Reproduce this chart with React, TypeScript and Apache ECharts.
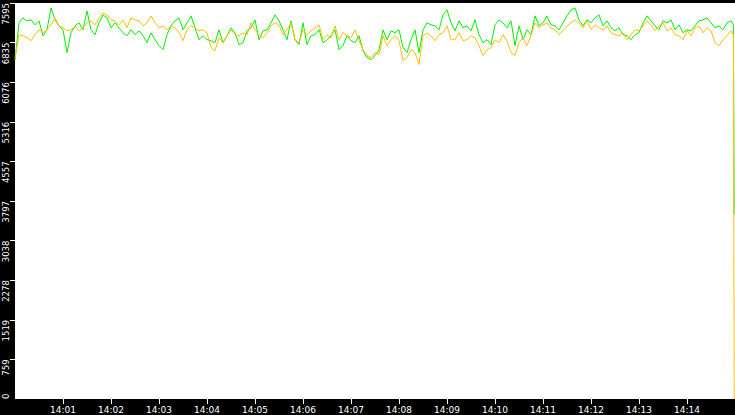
import { useEffect, useRef } from "react";
import * as echarts from "echarts";

// samples every 5 s from 14:00:00
const SAMPLE_STEP = 5;
const Y_MAX = 7595;
const Y_STEP = 759.5;

const greenValues = [
  6491, 7214, 7310, 7252, 7271, 7176, 7252, 6967, 7081, 7500, 7271, 7157, 7081, 6643, 7024, 7157, 7214, 7081, 7443, 7081,
  6986, 7214, 7367, 7310, 7119, 7214, 7119, 7024, 6967, 7081, 6986, 7062, 6967, 6834, 7024, 6891, 6777, 6700, 6986, 7157,
  7252, 7310, 7081, 7214, 7348,
  7119, 6891, 6967, 6891, 6872, 6834, 7081, 6834, 6967, 7119, 7024, 6796, 6834, 7062, 7119, 7271, 6891, 7062, 7081, 7214,
  7367, 7252, 7081, 6891, 7252, 6891, 6796, 7214, 6796, 6967, 6986, 7081, 6834, 6891, 6967, 7081, 6700, 6777, 6967, 6872,
  6834, 6967, 6681, 6548, 6510,
  6586, 6700, 7081, 6891, 7062, 7024, 7081, 6738, 6643, 6891, 7081, 6643, 7081, 7214, 7176, 7157, 7081, 7367, 7462, 7214,
  7062, 7252, 7119, 7157, 7062, 7271, 6986, 6834, 6891, 6796, 7176, 7271, 7214, 7119, 7252, 6777, 7157, 6891, 7081, 6986,
  7348, 7157, 7214, 7348, 7176,
  7157, 7081, 7214, 7348, 7462, 7500, 7271, 7157, 7271, 7214, 7310, 7367, 7157, 7252, 7119, 7062, 7119, 6986, 6967, 6891,
  6986, 7024, 7214, 7348, 7252, 7157, 7081, 7252, 7214, 7271, 7081, 7176, 7024, 7081, 7062, 7157, 7252, 7271, 7310, 7214,
  7119, 7157, 7081, 7214, 7252,
];

const orangeValues = [
  6548, 6986, 6967, 6929, 6872, 6986, 7081, 7024, 7081, 7176, 7310, 7157, 7119, 7062, 7081, 7157, 7062, 7119, 7214, 7252,
  7176, 7310, 7405, 7367, 7271, 7252, 7176, 7271, 7119, 7310, 7271, 7252, 7157, 7214, 7348, 7214, 7119, 7157, 7081, 7157,
  7119, 7024, 6872, 7081, 7157,
  7119, 7062, 7081, 7024, 6738, 6681, 6929, 6834, 6967, 7081, 6986, 6967, 7024, 6986, 7214, 7081, 6986, 6929, 7024, 7157,
  7214, 7176, 6986, 7081, 7214, 6891, 6834, 7081, 6986, 7062, 7119, 7176, 6891, 6986, 6929, 7157, 6891, 7024, 6967, 6929,
  7081, 6872, 6700, 6586, 6548,
  6643, 6605, 6967, 6777, 6891, 6967, 6872, 6491, 6548, 6700, 6643, 6415, 6967, 7024, 6967, 6872, 6986, 7024, 7157, 6891,
  6891, 7024, 6872, 6891, 6967, 6929, 6777, 6586, 6700, 6738, 6891, 6834, 6986, 6872, 6643, 6586, 6834, 6929, 6777, 6967,
  7214, 7119, 7176, 7214, 7119,
  7081, 6986, 7062, 7157, 7214, 7271, 7214, 7119, 7252, 7081, 7176, 7119, 7081, 7157, 7024, 6986, 6967, 7024, 6891, 6986,
  7081, 7062, 7157, 7252, 7176, 7062, 7157, 7214, 7062, 7119, 6986, 6967, 6891, 7062, 6967, 7119, 7157, 7024, 7119, 7062,
  6834, 6777, 6891, 6967, 7062,
];

// final readings: 14:14:58 and 14:14:59 (the drop)
const tailSeconds = [898, 899];
const greenTail = [7176, 3541];
const orangeTail = [6986, 0];

function toPoints(values: number[], tail: number[]) {
  const pts: [number, number][] = values.map((v, i) => [i * SAMPLE_STEP, v]);
  tail.forEach((v, i) => pts.push([tailSeconds[i], v]));
  return pts;
}

function minuteLabel(s: number) {
  const m = Math.round(s / 60);
  return `14:${m < 10 ? "0" + m : m}`;
}

export default function App() {
  const ref = useRef<HTMLDivElement>(null);

  useEffect(() => {
    document.body.style.margin = "0";
    document.body.style.background = "#000";
    if (!ref.current) return;
    const chart = echarts.init(ref.current, undefined, { renderer: "svg" });
    const font = "DejaVu Sans";
    chart.setOption({
      animation: false,
      backgroundColor: "#000",
      grid: {
        left: 15,
        right: 0,
        top: 0,
        bottom: 16,
        show: true,
        backgroundColor: "#fff",
        borderWidth: 0,
      },
      xAxis: {
        type: "value",
        min: 0,
        max: 900,
        interval: 60,
        axisLine: { show: false },
        axisTick: { show: true, length: 5, lineStyle: { color: "#fff", width: 1 } },
        splitLine: { show: false },
        axisLabel: {
          color: "#fff",
          fontFamily: font,
          fontSize: 9,
          margin: 6,
          showMinLabel: false,
          showMaxLabel: false,
          formatter: minuteLabel,
        },
      },
      yAxis: [
        {
          type: "value",
          min: 0,
          max: Y_MAX,
          interval: Y_STEP,
          axisLine: { show: false },
          axisTick: { show: true, length: 5, lineStyle: { color: "#fff", width: 1 } },
          splitLine: { show: false },
          axisLabel: {
            color: "#fff",
            fontFamily: font,
            fontSize: 8.5,
            rotate: 90,
            align: "right",
            verticalAlign: "middle",
            margin: 9,
            showMinLabel: false,
            formatter: (v: number) => String(Math.floor(v)),
          },
        },
        {
          // only the bottom label, which sits above its tick
          type: "value",
          position: "left",
          min: 0,
          max: Y_MAX,
          interval: Y_STEP,
          axisLine: { show: false },
          axisTick: { show: false },
          splitLine: { show: false },
          axisLabel: {
            color: "#fff",
            fontFamily: font,
            fontSize: 8.5,
            rotate: 90,
            align: "left",
            verticalAlign: "middle",
            margin: 9,
            showMaxLabel: false,
            formatter: (v: number) => (v === 0 ? "0" : ""),
          },
        },
      ],
      series: [
        {
          type: "line",
          data: toPoints(greenValues, greenTail),
          showSymbol: false,
          lineStyle: { color: "#00f000", width: 1 },
          itemStyle: { color: "#00f000" },
        },
        {
          type: "line",
          data: toPoints(orangeValues, orangeTail),
          showSymbol: false,
          z: 3,
          lineStyle: { color: "#ffbf00", width: 1 },
          itemStyle: { color: "#ffbf00" },
        },
      ],
    });
    return () => chart.dispose();
  }, []);

  return <div ref={ref} style={{ width: 735, height: 415 }} />;
}
